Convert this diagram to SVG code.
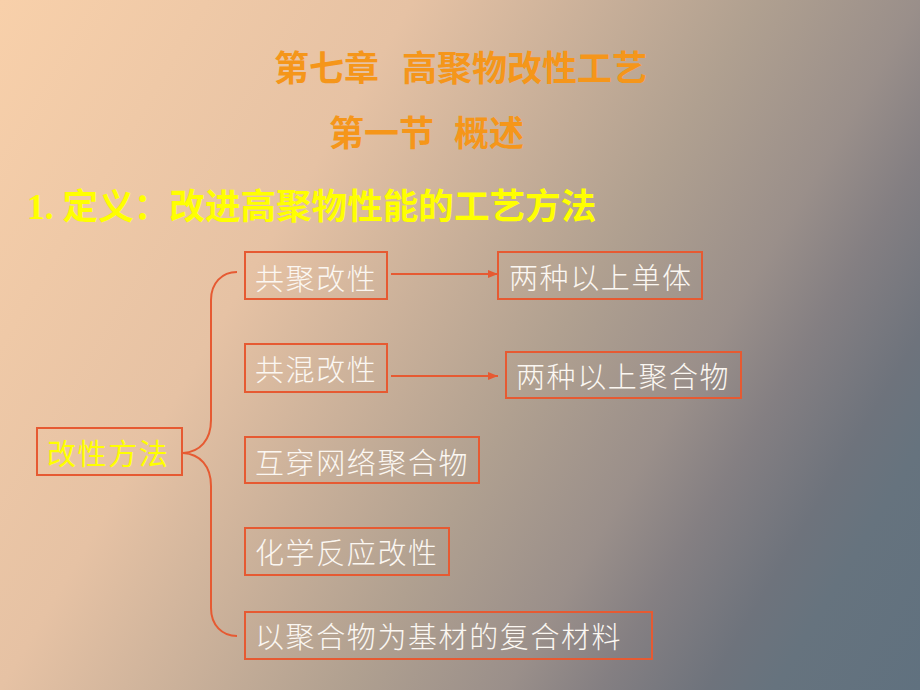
<svg xmlns="http://www.w3.org/2000/svg" width="920" height="690" viewBox="0 0 920 690">
<defs>
<linearGradient id="bg" gradientUnits="userSpaceOnUse" x1="0" y1="0" x2="981" y2="588">
<stop offset="0" stop-color="#F8D0AA"/>
<stop offset="0.31" stop-color="#E6C2A4"/>
<stop offset="0.57" stop-color="#B0A090"/>
<stop offset="0.69" stop-color="#9A8F8A"/>
<stop offset="0.76" stop-color="#847F82"/>
<stop offset="0.84" stop-color="#6E737C"/>
<stop offset="0.89" stop-color="#66737E"/>
<stop offset="1" stop-color="#60717F"/>
</linearGradient>
<marker id="ah" markerUnits="userSpaceOnUse" markerWidth="11" markerHeight="9" refX="10" refY="4" orient="auto">
<path d="M0,0 L10,4 L0,8 z" fill="#E65A32"/>
</marker>
</defs>
<style>
.box{fill:none;stroke:#E65A32;stroke-width:2}
.lbl{font-family:"Noto Sans CJK SC","Noto Sans",sans-serif;font-size:29px;letter-spacing:1.6px;fill:#FBF7F2;font-weight:300}
.ylw{font-family:"Noto Sans CJK SC","Noto Sans",sans-serif;font-size:29px;letter-spacing:1.6px;fill:#FFFF00}
.ttl{font-family:"Noto Sans CJK SC",sans-serif;font-size:35px;font-weight:bold;fill:#F5961A}
.def{font-family:"Liberation Serif","Noto Sans CJK SC",serif;font-size:35.6px;font-weight:bold;fill:#FFFF00}
.con{fill:none;stroke:#E65A32;stroke-width:2}
</style>
<rect x="0" y="0" width="920" height="690" fill="url(#bg)"/>
<g id="titles">
<text class="ttl" y="81"><tspan x="274">第七章</tspan><tspan x="402">高聚物改性工艺</tspan></text>
<text class="ttl" y="146"><tspan x="329">第一节</tspan><tspan x="454">概述</tspan></text>
<text class="def" x="27" y="219">1. 定义：改进高聚物性能的工艺方法</text>
</g>
<g id="connectors">
<path class="con" d="M237,272 C222,272 211,283 211,300 L211,420 C211,440 200,452 183,453 C200,454 211,466 211,486 L211,608 C211,625 222,636 237,636"/>
<line class="con" x1="391" y1="274" x2="498" y2="274" marker-end="url(#ah)"/>
<line class="con" x1="391" y1="376" x2="498" y2="376" marker-end="url(#ah)"/>
</g>
<g id="node-method"><rect class="box" x="37" y="428" width="145" height="47"/><text class="ylw" x="47" y="465">改性方法</text></g>
<g id="node-copoly"><rect class="box" x="245" y="252" width="142" height="47"/><text class="lbl" x="255" y="290">共聚改性</text></g>
<g id="node-blend"><rect class="box" x="245" y="344" width="142" height="48"/><text class="lbl" x="255" y="381">共混改性</text></g>
<g id="node-ipn"><rect class="box" x="245" y="437" width="234" height="46"/><text class="lbl" x="255" y="474">互穿网络聚合物</text></g>
<g id="node-chem"><rect class="box" x="245" y="528" width="204" height="47"/><text class="lbl" x="255" y="564">化学反应改性</text></g>
<g id="node-composite"><rect class="box" x="245" y="612" width="407" height="47"/><text class="lbl" x="255" y="648">以聚合物为基材的复合材料</text></g>
<g id="node-monomers"><rect class="box" x="498" y="252" width="204" height="47"/><text class="lbl" x="509" y="289">两种以上单体</text></g>
<g id="node-polymers"><rect class="box" x="506" y="352" width="235" height="46"/><text class="lbl" x="516" y="388">两种以上聚合物</text></g>
</svg>
